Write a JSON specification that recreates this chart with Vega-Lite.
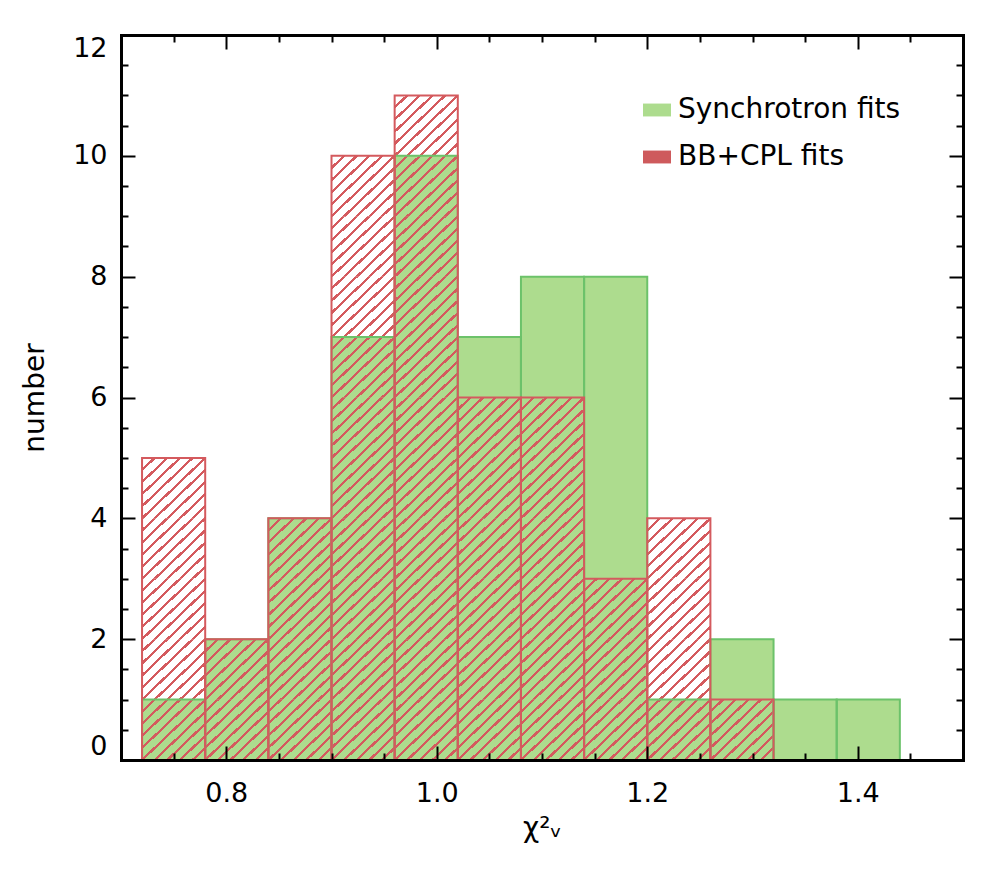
{
  "$schema": "https://vega.github.io/schema/vega-lite/v6.json",
  "width": 842,
  "height": 725,
  "autosize": {"type": "none"},
  "padding": {"left": 121, "top": 35, "right": 40, "bottom": 126},
  "background": "white",
  "config": {
    "font": "DejaVu Sans",
    "view": {"stroke": null},
    "axis": {
      "grid": false,
      "tickColor": "black",
      "tickWidth": 2,
      "domainColor": "black",
      "domainWidth": 3,
      "domainCap": "square",
      "labelColor": "black",
      "labelFontSize": 27,
      "labelOverlap": false,
      "titleColor": "black",
      "titleFontSize": 28,
      "titleFontWeight": "normal"
    }
  },
  "data": {
    "values": [
      {"lo": 0.72, "hi": 0.78, "synchrotron": 1, "bbcpl": 5},
      {"lo": 0.78, "hi": 0.84, "synchrotron": 2, "bbcpl": 2},
      {"lo": 0.84, "hi": 0.90, "synchrotron": 4, "bbcpl": 4},
      {"lo": 0.90, "hi": 0.96, "synchrotron": 7, "bbcpl": 10},
      {"lo": 0.96, "hi": 1.02, "synchrotron": 10, "bbcpl": 11},
      {"lo": 1.02, "hi": 1.08, "synchrotron": 7, "bbcpl": 6},
      {"lo": 1.08, "hi": 1.14, "synchrotron": 8, "bbcpl": 6},
      {"lo": 1.14, "hi": 1.20, "synchrotron": 8, "bbcpl": 3},
      {"lo": 1.20, "hi": 1.26, "synchrotron": 1, "bbcpl": 4},
      {"lo": 1.26, "hi": 1.32, "synchrotron": 2, "bbcpl": 1},
      {"lo": 1.32, "hi": 1.38, "synchrotron": 1, "bbcpl": 0},
      {"lo": 1.38, "hi": 1.44, "synchrotron": 1, "bbcpl": 0}
    ]
  },
  "resolve": {"axis": {"x": "independent", "y": "independent"}},
  "layer": [
    {
      "mark": {"type": "bar", "strokeWidth": 0},
      "encoding": {
        "x": {
          "field": "lo", "type": "quantitative",
          "scale": {"domain": [0.7, 1.5], "nice": false, "zero": false},
          "axis": {
            "orient": "bottom",
            "values": [0.75, 0.8, 0.85, 0.9, 0.95, 1.0, 1.05, 1.1, 1.15, 1.2, 1.25, 1.3, 1.35, 1.4, 1.45],
            "labelExpr": "round(datum.value * 100) % 20 === 0 ? format(datum.value, '.1f') : ''",
            "tickSize": {"condition": {"test": "round(datum.value * 100) % 20 === 0", "value": -14}, "value": -7},
            "labelPadding": 34,
            "title": "χ²ᵥ",
            "titlePadding": 1,
            "zindex": 1
          }
        },
        "x2": {"field": "hi"},
        "y": {
          "field": "synchrotron", "type": "quantitative",
          "scale": {"domain": [0, 12], "nice": false},
          "axis": {
            "orient": "left",
            "values": [0, 0.5, 1, 1.5, 2, 2.5, 3, 3.5, 4, 4.5, 5, 5.5, 6, 6.5, 7, 7.5, 8, 8.5, 9, 9.5, 10, 10.5, 11, 11.5, 12],
            "labelExpr": "datum.value % 2 === 0 ? format(datum.value, 'd') : ''",
            "tickSize": {"condition": {"test": "datum.value % 2 === 0", "value": -14}, "value": -7},
            "labelPadding": 28,
            "labelFlush": true,
            "title": "number",
            "titlePadding": 23,
            "zindex": 1
          }
        },
        "y2": {"datum": 0},
        "color": {
          "datum": "Synchrotron fits", "type": "nominal",
          "scale": {"domain": ["Synchrotron fits", "BB+CPL fits"], "range": ["#addc8e", "#ce5a5c"]},
          "legend": {
            "orient": "none",
            "legendX": 522,
            "legendY": 61,
            "title": null,
            "padding": 0,
            "symbolType": "M-1,-0.46H1V0.46H-1Z",
            "symbolSize": 784,
            "symbolStrokeWidth": 0,
            "symbolOpacity": 1,
            "labelFontSize": 28,
            "labelColor": "black",
            "labelLimit": 400,
            "labelOffset": 7,
            "rowPadding": 19
          }
        }
      }
    },
    {"transform": [{"filter": "datum.bbcpl > 0"}],
     "mark": {"type": "bar", "strokeWidth": 0, "fill": {"gradient": "linear", "x1": 0, "y1": 0, "x2": 1, "y2": 1, "stops": [{"offset": 0, "color": "#d45a5e"}, {"offset": 0.013, "color": "#d45a5e"}, {"offset": 0.013, "color": "#d45a5e00"}, {"offset": 0.087, "color": "#d45a5e00"}, {"offset": 0.087, "color": "#d45a5e"}, {"offset": 0.113, "color": "#d45a5e"}, {"offset": 0.113, "color": "#d45a5e00"}, {"offset": 0.187, "color": "#d45a5e00"}, {"offset": 0.187, "color": "#d45a5e"}, {"offset": 0.213, "color": "#d45a5e"}, {"offset": 0.213, "color": "#d45a5e00"}, {"offset": 0.287, "color": "#d45a5e00"}, {"offset": 0.287, "color": "#d45a5e"}, {"offset": 0.313, "color": "#d45a5e"}, {"offset": 0.313, "color": "#d45a5e00"}, {"offset": 0.387, "color": "#d45a5e00"}, {"offset": 0.387, "color": "#d45a5e"}, {"offset": 0.413, "color": "#d45a5e"}, {"offset": 0.413, "color": "#d45a5e00"}, {"offset": 0.487, "color": "#d45a5e00"}, {"offset": 0.487, "color": "#d45a5e"}, {"offset": 0.513, "color": "#d45a5e"}, {"offset": 0.513, "color": "#d45a5e00"}, {"offset": 0.587, "color": "#d45a5e00"}, {"offset": 0.587, "color": "#d45a5e"}, {"offset": 0.613, "color": "#d45a5e"}, {"offset": 0.613, "color": "#d45a5e00"}, {"offset": 0.687, "color": "#d45a5e00"}, {"offset": 0.687, "color": "#d45a5e"}, {"offset": 0.713, "color": "#d45a5e"}, {"offset": 0.713, "color": "#d45a5e00"}, {"offset": 0.787, "color": "#d45a5e00"}, {"offset": 0.787, "color": "#d45a5e"}, {"offset": 0.813, "color": "#d45a5e"}, {"offset": 0.813, "color": "#d45a5e00"}, {"offset": 0.887, "color": "#d45a5e00"}, {"offset": 0.887, "color": "#d45a5e"}, {"offset": 0.913, "color": "#d45a5e"}, {"offset": 0.913, "color": "#d45a5e00"}, {"offset": 0.987, "color": "#d45a5e00"}, {"offset": 0.987, "color": "#d45a5e"}, {"offset": 1, "color": "#d45a5e"}]}},
     "encoding": {"x": {"field": "lo", "type": "quantitative", "axis": null}, "x2": {"field": "hi"}, "y": {"datum": 1, "type": "quantitative", "axis": null}, "y2": {"datum": 0}}},
    {"transform": [{"filter": "datum.bbcpl > 1"}],
     "mark": {"type": "bar", "strokeWidth": 0, "fill": {"gradient": "linear", "x1": 0, "y1": 0, "x2": 1, "y2": 1, "stops": [{"offset": 0, "color": "#d45a5e"}, {"offset": 0.013, "color": "#d45a5e"}, {"offset": 0.013, "color": "#d45a5e00"}, {"offset": 0.087, "color": "#d45a5e00"}, {"offset": 0.087, "color": "#d45a5e"}, {"offset": 0.113, "color": "#d45a5e"}, {"offset": 0.113, "color": "#d45a5e00"}, {"offset": 0.187, "color": "#d45a5e00"}, {"offset": 0.187, "color": "#d45a5e"}, {"offset": 0.213, "color": "#d45a5e"}, {"offset": 0.213, "color": "#d45a5e00"}, {"offset": 0.287, "color": "#d45a5e00"}, {"offset": 0.287, "color": "#d45a5e"}, {"offset": 0.313, "color": "#d45a5e"}, {"offset": 0.313, "color": "#d45a5e00"}, {"offset": 0.387, "color": "#d45a5e00"}, {"offset": 0.387, "color": "#d45a5e"}, {"offset": 0.413, "color": "#d45a5e"}, {"offset": 0.413, "color": "#d45a5e00"}, {"offset": 0.487, "color": "#d45a5e00"}, {"offset": 0.487, "color": "#d45a5e"}, {"offset": 0.513, "color": "#d45a5e"}, {"offset": 0.513, "color": "#d45a5e00"}, {"offset": 0.587, "color": "#d45a5e00"}, {"offset": 0.587, "color": "#d45a5e"}, {"offset": 0.613, "color": "#d45a5e"}, {"offset": 0.613, "color": "#d45a5e00"}, {"offset": 0.687, "color": "#d45a5e00"}, {"offset": 0.687, "color": "#d45a5e"}, {"offset": 0.713, "color": "#d45a5e"}, {"offset": 0.713, "color": "#d45a5e00"}, {"offset": 0.787, "color": "#d45a5e00"}, {"offset": 0.787, "color": "#d45a5e"}, {"offset": 0.813, "color": "#d45a5e"}, {"offset": 0.813, "color": "#d45a5e00"}, {"offset": 0.887, "color": "#d45a5e00"}, {"offset": 0.887, "color": "#d45a5e"}, {"offset": 0.913, "color": "#d45a5e"}, {"offset": 0.913, "color": "#d45a5e00"}, {"offset": 0.987, "color": "#d45a5e00"}, {"offset": 0.987, "color": "#d45a5e"}, {"offset": 1, "color": "#d45a5e"}]}},
     "encoding": {"x": {"field": "lo", "type": "quantitative", "axis": null}, "x2": {"field": "hi"}, "y": {"datum": 2, "type": "quantitative", "axis": null}, "y2": {"datum": 1}}},
    {"transform": [{"filter": "datum.bbcpl > 2"}],
     "mark": {"type": "bar", "strokeWidth": 0, "fill": {"gradient": "linear", "x1": 0, "y1": 0, "x2": 1, "y2": 1, "stops": [{"offset": 0, "color": "#d45a5e"}, {"offset": 0.013, "color": "#d45a5e"}, {"offset": 0.013, "color": "#d45a5e00"}, {"offset": 0.087, "color": "#d45a5e00"}, {"offset": 0.087, "color": "#d45a5e"}, {"offset": 0.113, "color": "#d45a5e"}, {"offset": 0.113, "color": "#d45a5e00"}, {"offset": 0.187, "color": "#d45a5e00"}, {"offset": 0.187, "color": "#d45a5e"}, {"offset": 0.213, "color": "#d45a5e"}, {"offset": 0.213, "color": "#d45a5e00"}, {"offset": 0.287, "color": "#d45a5e00"}, {"offset": 0.287, "color": "#d45a5e"}, {"offset": 0.313, "color": "#d45a5e"}, {"offset": 0.313, "color": "#d45a5e00"}, {"offset": 0.387, "color": "#d45a5e00"}, {"offset": 0.387, "color": "#d45a5e"}, {"offset": 0.413, "color": "#d45a5e"}, {"offset": 0.413, "color": "#d45a5e00"}, {"offset": 0.487, "color": "#d45a5e00"}, {"offset": 0.487, "color": "#d45a5e"}, {"offset": 0.513, "color": "#d45a5e"}, {"offset": 0.513, "color": "#d45a5e00"}, {"offset": 0.587, "color": "#d45a5e00"}, {"offset": 0.587, "color": "#d45a5e"}, {"offset": 0.613, "color": "#d45a5e"}, {"offset": 0.613, "color": "#d45a5e00"}, {"offset": 0.687, "color": "#d45a5e00"}, {"offset": 0.687, "color": "#d45a5e"}, {"offset": 0.713, "color": "#d45a5e"}, {"offset": 0.713, "color": "#d45a5e00"}, {"offset": 0.787, "color": "#d45a5e00"}, {"offset": 0.787, "color": "#d45a5e"}, {"offset": 0.813, "color": "#d45a5e"}, {"offset": 0.813, "color": "#d45a5e00"}, {"offset": 0.887, "color": "#d45a5e00"}, {"offset": 0.887, "color": "#d45a5e"}, {"offset": 0.913, "color": "#d45a5e"}, {"offset": 0.913, "color": "#d45a5e00"}, {"offset": 0.987, "color": "#d45a5e00"}, {"offset": 0.987, "color": "#d45a5e"}, {"offset": 1, "color": "#d45a5e"}]}},
     "encoding": {"x": {"field": "lo", "type": "quantitative", "axis": null}, "x2": {"field": "hi"}, "y": {"datum": 3, "type": "quantitative", "axis": null}, "y2": {"datum": 2}}},
    {"transform": [{"filter": "datum.bbcpl > 3"}],
     "mark": {"type": "bar", "strokeWidth": 0, "fill": {"gradient": "linear", "x1": 0, "y1": 0, "x2": 1, "y2": 1, "stops": [{"offset": 0, "color": "#d45a5e"}, {"offset": 0.013, "color": "#d45a5e"}, {"offset": 0.013, "color": "#d45a5e00"}, {"offset": 0.087, "color": "#d45a5e00"}, {"offset": 0.087, "color": "#d45a5e"}, {"offset": 0.113, "color": "#d45a5e"}, {"offset": 0.113, "color": "#d45a5e00"}, {"offset": 0.187, "color": "#d45a5e00"}, {"offset": 0.187, "color": "#d45a5e"}, {"offset": 0.213, "color": "#d45a5e"}, {"offset": 0.213, "color": "#d45a5e00"}, {"offset": 0.287, "color": "#d45a5e00"}, {"offset": 0.287, "color": "#d45a5e"}, {"offset": 0.313, "color": "#d45a5e"}, {"offset": 0.313, "color": "#d45a5e00"}, {"offset": 0.387, "color": "#d45a5e00"}, {"offset": 0.387, "color": "#d45a5e"}, {"offset": 0.413, "color": "#d45a5e"}, {"offset": 0.413, "color": "#d45a5e00"}, {"offset": 0.487, "color": "#d45a5e00"}, {"offset": 0.487, "color": "#d45a5e"}, {"offset": 0.513, "color": "#d45a5e"}, {"offset": 0.513, "color": "#d45a5e00"}, {"offset": 0.587, "color": "#d45a5e00"}, {"offset": 0.587, "color": "#d45a5e"}, {"offset": 0.613, "color": "#d45a5e"}, {"offset": 0.613, "color": "#d45a5e00"}, {"offset": 0.687, "color": "#d45a5e00"}, {"offset": 0.687, "color": "#d45a5e"}, {"offset": 0.713, "color": "#d45a5e"}, {"offset": 0.713, "color": "#d45a5e00"}, {"offset": 0.787, "color": "#d45a5e00"}, {"offset": 0.787, "color": "#d45a5e"}, {"offset": 0.813, "color": "#d45a5e"}, {"offset": 0.813, "color": "#d45a5e00"}, {"offset": 0.887, "color": "#d45a5e00"}, {"offset": 0.887, "color": "#d45a5e"}, {"offset": 0.913, "color": "#d45a5e"}, {"offset": 0.913, "color": "#d45a5e00"}, {"offset": 0.987, "color": "#d45a5e00"}, {"offset": 0.987, "color": "#d45a5e"}, {"offset": 1, "color": "#d45a5e"}]}},
     "encoding": {"x": {"field": "lo", "type": "quantitative", "axis": null}, "x2": {"field": "hi"}, "y": {"datum": 4, "type": "quantitative", "axis": null}, "y2": {"datum": 3}}},
    {"transform": [{"filter": "datum.bbcpl > 4"}],
     "mark": {"type": "bar", "strokeWidth": 0, "fill": {"gradient": "linear", "x1": 0, "y1": 0, "x2": 1, "y2": 1, "stops": [{"offset": 0, "color": "#d45a5e"}, {"offset": 0.013, "color": "#d45a5e"}, {"offset": 0.013, "color": "#d45a5e00"}, {"offset": 0.087, "color": "#d45a5e00"}, {"offset": 0.087, "color": "#d45a5e"}, {"offset": 0.113, "color": "#d45a5e"}, {"offset": 0.113, "color": "#d45a5e00"}, {"offset": 0.187, "color": "#d45a5e00"}, {"offset": 0.187, "color": "#d45a5e"}, {"offset": 0.213, "color": "#d45a5e"}, {"offset": 0.213, "color": "#d45a5e00"}, {"offset": 0.287, "color": "#d45a5e00"}, {"offset": 0.287, "color": "#d45a5e"}, {"offset": 0.313, "color": "#d45a5e"}, {"offset": 0.313, "color": "#d45a5e00"}, {"offset": 0.387, "color": "#d45a5e00"}, {"offset": 0.387, "color": "#d45a5e"}, {"offset": 0.413, "color": "#d45a5e"}, {"offset": 0.413, "color": "#d45a5e00"}, {"offset": 0.487, "color": "#d45a5e00"}, {"offset": 0.487, "color": "#d45a5e"}, {"offset": 0.513, "color": "#d45a5e"}, {"offset": 0.513, "color": "#d45a5e00"}, {"offset": 0.587, "color": "#d45a5e00"}, {"offset": 0.587, "color": "#d45a5e"}, {"offset": 0.613, "color": "#d45a5e"}, {"offset": 0.613, "color": "#d45a5e00"}, {"offset": 0.687, "color": "#d45a5e00"}, {"offset": 0.687, "color": "#d45a5e"}, {"offset": 0.713, "color": "#d45a5e"}, {"offset": 0.713, "color": "#d45a5e00"}, {"offset": 0.787, "color": "#d45a5e00"}, {"offset": 0.787, "color": "#d45a5e"}, {"offset": 0.813, "color": "#d45a5e"}, {"offset": 0.813, "color": "#d45a5e00"}, {"offset": 0.887, "color": "#d45a5e00"}, {"offset": 0.887, "color": "#d45a5e"}, {"offset": 0.913, "color": "#d45a5e"}, {"offset": 0.913, "color": "#d45a5e00"}, {"offset": 0.987, "color": "#d45a5e00"}, {"offset": 0.987, "color": "#d45a5e"}, {"offset": 1, "color": "#d45a5e"}]}},
     "encoding": {"x": {"field": "lo", "type": "quantitative", "axis": null}, "x2": {"field": "hi"}, "y": {"datum": 5, "type": "quantitative", "axis": null}, "y2": {"datum": 4}}},
    {"transform": [{"filter": "datum.bbcpl > 5"}],
     "mark": {"type": "bar", "strokeWidth": 0, "fill": {"gradient": "linear", "x1": 0, "y1": 0, "x2": 1, "y2": 1, "stops": [{"offset": 0, "color": "#d45a5e"}, {"offset": 0.013, "color": "#d45a5e"}, {"offset": 0.013, "color": "#d45a5e00"}, {"offset": 0.087, "color": "#d45a5e00"}, {"offset": 0.087, "color": "#d45a5e"}, {"offset": 0.113, "color": "#d45a5e"}, {"offset": 0.113, "color": "#d45a5e00"}, {"offset": 0.187, "color": "#d45a5e00"}, {"offset": 0.187, "color": "#d45a5e"}, {"offset": 0.213, "color": "#d45a5e"}, {"offset": 0.213, "color": "#d45a5e00"}, {"offset": 0.287, "color": "#d45a5e00"}, {"offset": 0.287, "color": "#d45a5e"}, {"offset": 0.313, "color": "#d45a5e"}, {"offset": 0.313, "color": "#d45a5e00"}, {"offset": 0.387, "color": "#d45a5e00"}, {"offset": 0.387, "color": "#d45a5e"}, {"offset": 0.413, "color": "#d45a5e"}, {"offset": 0.413, "color": "#d45a5e00"}, {"offset": 0.487, "color": "#d45a5e00"}, {"offset": 0.487, "color": "#d45a5e"}, {"offset": 0.513, "color": "#d45a5e"}, {"offset": 0.513, "color": "#d45a5e00"}, {"offset": 0.587, "color": "#d45a5e00"}, {"offset": 0.587, "color": "#d45a5e"}, {"offset": 0.613, "color": "#d45a5e"}, {"offset": 0.613, "color": "#d45a5e00"}, {"offset": 0.687, "color": "#d45a5e00"}, {"offset": 0.687, "color": "#d45a5e"}, {"offset": 0.713, "color": "#d45a5e"}, {"offset": 0.713, "color": "#d45a5e00"}, {"offset": 0.787, "color": "#d45a5e00"}, {"offset": 0.787, "color": "#d45a5e"}, {"offset": 0.813, "color": "#d45a5e"}, {"offset": 0.813, "color": "#d45a5e00"}, {"offset": 0.887, "color": "#d45a5e00"}, {"offset": 0.887, "color": "#d45a5e"}, {"offset": 0.913, "color": "#d45a5e"}, {"offset": 0.913, "color": "#d45a5e00"}, {"offset": 0.987, "color": "#d45a5e00"}, {"offset": 0.987, "color": "#d45a5e"}, {"offset": 1, "color": "#d45a5e"}]}},
     "encoding": {"x": {"field": "lo", "type": "quantitative", "axis": null}, "x2": {"field": "hi"}, "y": {"datum": 6, "type": "quantitative", "axis": null}, "y2": {"datum": 5}}},
    {"transform": [{"filter": "datum.bbcpl > 6"}],
     "mark": {"type": "bar", "strokeWidth": 0, "fill": {"gradient": "linear", "x1": 0, "y1": 0, "x2": 1, "y2": 1, "stops": [{"offset": 0, "color": "#d45a5e"}, {"offset": 0.013, "color": "#d45a5e"}, {"offset": 0.013, "color": "#d45a5e00"}, {"offset": 0.087, "color": "#d45a5e00"}, {"offset": 0.087, "color": "#d45a5e"}, {"offset": 0.113, "color": "#d45a5e"}, {"offset": 0.113, "color": "#d45a5e00"}, {"offset": 0.187, "color": "#d45a5e00"}, {"offset": 0.187, "color": "#d45a5e"}, {"offset": 0.213, "color": "#d45a5e"}, {"offset": 0.213, "color": "#d45a5e00"}, {"offset": 0.287, "color": "#d45a5e00"}, {"offset": 0.287, "color": "#d45a5e"}, {"offset": 0.313, "color": "#d45a5e"}, {"offset": 0.313, "color": "#d45a5e00"}, {"offset": 0.387, "color": "#d45a5e00"}, {"offset": 0.387, "color": "#d45a5e"}, {"offset": 0.413, "color": "#d45a5e"}, {"offset": 0.413, "color": "#d45a5e00"}, {"offset": 0.487, "color": "#d45a5e00"}, {"offset": 0.487, "color": "#d45a5e"}, {"offset": 0.513, "color": "#d45a5e"}, {"offset": 0.513, "color": "#d45a5e00"}, {"offset": 0.587, "color": "#d45a5e00"}, {"offset": 0.587, "color": "#d45a5e"}, {"offset": 0.613, "color": "#d45a5e"}, {"offset": 0.613, "color": "#d45a5e00"}, {"offset": 0.687, "color": "#d45a5e00"}, {"offset": 0.687, "color": "#d45a5e"}, {"offset": 0.713, "color": "#d45a5e"}, {"offset": 0.713, "color": "#d45a5e00"}, {"offset": 0.787, "color": "#d45a5e00"}, {"offset": 0.787, "color": "#d45a5e"}, {"offset": 0.813, "color": "#d45a5e"}, {"offset": 0.813, "color": "#d45a5e00"}, {"offset": 0.887, "color": "#d45a5e00"}, {"offset": 0.887, "color": "#d45a5e"}, {"offset": 0.913, "color": "#d45a5e"}, {"offset": 0.913, "color": "#d45a5e00"}, {"offset": 0.987, "color": "#d45a5e00"}, {"offset": 0.987, "color": "#d45a5e"}, {"offset": 1, "color": "#d45a5e"}]}},
     "encoding": {"x": {"field": "lo", "type": "quantitative", "axis": null}, "x2": {"field": "hi"}, "y": {"datum": 7, "type": "quantitative", "axis": null}, "y2": {"datum": 6}}},
    {"transform": [{"filter": "datum.bbcpl > 7"}],
     "mark": {"type": "bar", "strokeWidth": 0, "fill": {"gradient": "linear", "x1": 0, "y1": 0, "x2": 1, "y2": 1, "stops": [{"offset": 0, "color": "#d45a5e"}, {"offset": 0.013, "color": "#d45a5e"}, {"offset": 0.013, "color": "#d45a5e00"}, {"offset": 0.087, "color": "#d45a5e00"}, {"offset": 0.087, "color": "#d45a5e"}, {"offset": 0.113, "color": "#d45a5e"}, {"offset": 0.113, "color": "#d45a5e00"}, {"offset": 0.187, "color": "#d45a5e00"}, {"offset": 0.187, "color": "#d45a5e"}, {"offset": 0.213, "color": "#d45a5e"}, {"offset": 0.213, "color": "#d45a5e00"}, {"offset": 0.287, "color": "#d45a5e00"}, {"offset": 0.287, "color": "#d45a5e"}, {"offset": 0.313, "color": "#d45a5e"}, {"offset": 0.313, "color": "#d45a5e00"}, {"offset": 0.387, "color": "#d45a5e00"}, {"offset": 0.387, "color": "#d45a5e"}, {"offset": 0.413, "color": "#d45a5e"}, {"offset": 0.413, "color": "#d45a5e00"}, {"offset": 0.487, "color": "#d45a5e00"}, {"offset": 0.487, "color": "#d45a5e"}, {"offset": 0.513, "color": "#d45a5e"}, {"offset": 0.513, "color": "#d45a5e00"}, {"offset": 0.587, "color": "#d45a5e00"}, {"offset": 0.587, "color": "#d45a5e"}, {"offset": 0.613, "color": "#d45a5e"}, {"offset": 0.613, "color": "#d45a5e00"}, {"offset": 0.687, "color": "#d45a5e00"}, {"offset": 0.687, "color": "#d45a5e"}, {"offset": 0.713, "color": "#d45a5e"}, {"offset": 0.713, "color": "#d45a5e00"}, {"offset": 0.787, "color": "#d45a5e00"}, {"offset": 0.787, "color": "#d45a5e"}, {"offset": 0.813, "color": "#d45a5e"}, {"offset": 0.813, "color": "#d45a5e00"}, {"offset": 0.887, "color": "#d45a5e00"}, {"offset": 0.887, "color": "#d45a5e"}, {"offset": 0.913, "color": "#d45a5e"}, {"offset": 0.913, "color": "#d45a5e00"}, {"offset": 0.987, "color": "#d45a5e00"}, {"offset": 0.987, "color": "#d45a5e"}, {"offset": 1, "color": "#d45a5e"}]}},
     "encoding": {"x": {"field": "lo", "type": "quantitative", "axis": null}, "x2": {"field": "hi"}, "y": {"datum": 8, "type": "quantitative", "axis": null}, "y2": {"datum": 7}}},
    {"transform": [{"filter": "datum.bbcpl > 8"}],
     "mark": {"type": "bar", "strokeWidth": 0, "fill": {"gradient": "linear", "x1": 0, "y1": 0, "x2": 1, "y2": 1, "stops": [{"offset": 0, "color": "#d45a5e"}, {"offset": 0.013, "color": "#d45a5e"}, {"offset": 0.013, "color": "#d45a5e00"}, {"offset": 0.087, "color": "#d45a5e00"}, {"offset": 0.087, "color": "#d45a5e"}, {"offset": 0.113, "color": "#d45a5e"}, {"offset": 0.113, "color": "#d45a5e00"}, {"offset": 0.187, "color": "#d45a5e00"}, {"offset": 0.187, "color": "#d45a5e"}, {"offset": 0.213, "color": "#d45a5e"}, {"offset": 0.213, "color": "#d45a5e00"}, {"offset": 0.287, "color": "#d45a5e00"}, {"offset": 0.287, "color": "#d45a5e"}, {"offset": 0.313, "color": "#d45a5e"}, {"offset": 0.313, "color": "#d45a5e00"}, {"offset": 0.387, "color": "#d45a5e00"}, {"offset": 0.387, "color": "#d45a5e"}, {"offset": 0.413, "color": "#d45a5e"}, {"offset": 0.413, "color": "#d45a5e00"}, {"offset": 0.487, "color": "#d45a5e00"}, {"offset": 0.487, "color": "#d45a5e"}, {"offset": 0.513, "color": "#d45a5e"}, {"offset": 0.513, "color": "#d45a5e00"}, {"offset": 0.587, "color": "#d45a5e00"}, {"offset": 0.587, "color": "#d45a5e"}, {"offset": 0.613, "color": "#d45a5e"}, {"offset": 0.613, "color": "#d45a5e00"}, {"offset": 0.687, "color": "#d45a5e00"}, {"offset": 0.687, "color": "#d45a5e"}, {"offset": 0.713, "color": "#d45a5e"}, {"offset": 0.713, "color": "#d45a5e00"}, {"offset": 0.787, "color": "#d45a5e00"}, {"offset": 0.787, "color": "#d45a5e"}, {"offset": 0.813, "color": "#d45a5e"}, {"offset": 0.813, "color": "#d45a5e00"}, {"offset": 0.887, "color": "#d45a5e00"}, {"offset": 0.887, "color": "#d45a5e"}, {"offset": 0.913, "color": "#d45a5e"}, {"offset": 0.913, "color": "#d45a5e00"}, {"offset": 0.987, "color": "#d45a5e00"}, {"offset": 0.987, "color": "#d45a5e"}, {"offset": 1, "color": "#d45a5e"}]}},
     "encoding": {"x": {"field": "lo", "type": "quantitative", "axis": null}, "x2": {"field": "hi"}, "y": {"datum": 9, "type": "quantitative", "axis": null}, "y2": {"datum": 8}}},
    {"transform": [{"filter": "datum.bbcpl > 9"}],
     "mark": {"type": "bar", "strokeWidth": 0, "fill": {"gradient": "linear", "x1": 0, "y1": 0, "x2": 1, "y2": 1, "stops": [{"offset": 0, "color": "#d45a5e"}, {"offset": 0.013, "color": "#d45a5e"}, {"offset": 0.013, "color": "#d45a5e00"}, {"offset": 0.087, "color": "#d45a5e00"}, {"offset": 0.087, "color": "#d45a5e"}, {"offset": 0.113, "color": "#d45a5e"}, {"offset": 0.113, "color": "#d45a5e00"}, {"offset": 0.187, "color": "#d45a5e00"}, {"offset": 0.187, "color": "#d45a5e"}, {"offset": 0.213, "color": "#d45a5e"}, {"offset": 0.213, "color": "#d45a5e00"}, {"offset": 0.287, "color": "#d45a5e00"}, {"offset": 0.287, "color": "#d45a5e"}, {"offset": 0.313, "color": "#d45a5e"}, {"offset": 0.313, "color": "#d45a5e00"}, {"offset": 0.387, "color": "#d45a5e00"}, {"offset": 0.387, "color": "#d45a5e"}, {"offset": 0.413, "color": "#d45a5e"}, {"offset": 0.413, "color": "#d45a5e00"}, {"offset": 0.487, "color": "#d45a5e00"}, {"offset": 0.487, "color": "#d45a5e"}, {"offset": 0.513, "color": "#d45a5e"}, {"offset": 0.513, "color": "#d45a5e00"}, {"offset": 0.587, "color": "#d45a5e00"}, {"offset": 0.587, "color": "#d45a5e"}, {"offset": 0.613, "color": "#d45a5e"}, {"offset": 0.613, "color": "#d45a5e00"}, {"offset": 0.687, "color": "#d45a5e00"}, {"offset": 0.687, "color": "#d45a5e"}, {"offset": 0.713, "color": "#d45a5e"}, {"offset": 0.713, "color": "#d45a5e00"}, {"offset": 0.787, "color": "#d45a5e00"}, {"offset": 0.787, "color": "#d45a5e"}, {"offset": 0.813, "color": "#d45a5e"}, {"offset": 0.813, "color": "#d45a5e00"}, {"offset": 0.887, "color": "#d45a5e00"}, {"offset": 0.887, "color": "#d45a5e"}, {"offset": 0.913, "color": "#d45a5e"}, {"offset": 0.913, "color": "#d45a5e00"}, {"offset": 0.987, "color": "#d45a5e00"}, {"offset": 0.987, "color": "#d45a5e"}, {"offset": 1, "color": "#d45a5e"}]}},
     "encoding": {"x": {"field": "lo", "type": "quantitative", "axis": null}, "x2": {"field": "hi"}, "y": {"datum": 10, "type": "quantitative", "axis": null}, "y2": {"datum": 9}}},
    {"transform": [{"filter": "datum.bbcpl > 10"}],
     "mark": {"type": "bar", "strokeWidth": 0, "fill": {"gradient": "linear", "x1": 0, "y1": 0, "x2": 1, "y2": 1, "stops": [{"offset": 0, "color": "#d45a5e"}, {"offset": 0.013, "color": "#d45a5e"}, {"offset": 0.013, "color": "#d45a5e00"}, {"offset": 0.087, "color": "#d45a5e00"}, {"offset": 0.087, "color": "#d45a5e"}, {"offset": 0.113, "color": "#d45a5e"}, {"offset": 0.113, "color": "#d45a5e00"}, {"offset": 0.187, "color": "#d45a5e00"}, {"offset": 0.187, "color": "#d45a5e"}, {"offset": 0.213, "color": "#d45a5e"}, {"offset": 0.213, "color": "#d45a5e00"}, {"offset": 0.287, "color": "#d45a5e00"}, {"offset": 0.287, "color": "#d45a5e"}, {"offset": 0.313, "color": "#d45a5e"}, {"offset": 0.313, "color": "#d45a5e00"}, {"offset": 0.387, "color": "#d45a5e00"}, {"offset": 0.387, "color": "#d45a5e"}, {"offset": 0.413, "color": "#d45a5e"}, {"offset": 0.413, "color": "#d45a5e00"}, {"offset": 0.487, "color": "#d45a5e00"}, {"offset": 0.487, "color": "#d45a5e"}, {"offset": 0.513, "color": "#d45a5e"}, {"offset": 0.513, "color": "#d45a5e00"}, {"offset": 0.587, "color": "#d45a5e00"}, {"offset": 0.587, "color": "#d45a5e"}, {"offset": 0.613, "color": "#d45a5e"}, {"offset": 0.613, "color": "#d45a5e00"}, {"offset": 0.687, "color": "#d45a5e00"}, {"offset": 0.687, "color": "#d45a5e"}, {"offset": 0.713, "color": "#d45a5e"}, {"offset": 0.713, "color": "#d45a5e00"}, {"offset": 0.787, "color": "#d45a5e00"}, {"offset": 0.787, "color": "#d45a5e"}, {"offset": 0.813, "color": "#d45a5e"}, {"offset": 0.813, "color": "#d45a5e00"}, {"offset": 0.887, "color": "#d45a5e00"}, {"offset": 0.887, "color": "#d45a5e"}, {"offset": 0.913, "color": "#d45a5e"}, {"offset": 0.913, "color": "#d45a5e00"}, {"offset": 0.987, "color": "#d45a5e00"}, {"offset": 0.987, "color": "#d45a5e"}, {"offset": 1, "color": "#d45a5e"}]}},
     "encoding": {"x": {"field": "lo", "type": "quantitative", "axis": null}, "x2": {"field": "hi"}, "y": {"datum": 11, "type": "quantitative", "axis": null}, "y2": {"datum": 10}}},
    {
      "mark": {"type": "bar", "filled": false, "stroke": "#6cc26a", "strokeWidth": 2},
      "encoding": {
        "x": {"field": "lo", "type": "quantitative", "axis": null},
        "x2": {"field": "hi"},
        "y": {"field": "synchrotron", "type": "quantitative", "axis": null},
        "y2": {"datum": 0}
      }
    },
    {
      "transform": [{"filter": "datum.bbcpl > 0"}],
      "mark": {"type": "bar", "filled": false, "stroke": "#d45a5e", "strokeWidth": 2},
      "encoding": {
        "x": {
          "field": "lo", "type": "quantitative",
          "axis": {
            "orient": "top",
            "values": [0.75, 0.8, 0.85, 0.9, 0.95, 1.0, 1.05, 1.1, 1.15, 1.2, 1.25, 1.3, 1.35, 1.4, 1.45],
            "labels": false,
            "title": null,
            "tickSize": {"condition": {"test": "round(datum.value * 100) % 20 === 0", "value": -14}, "value": -7},
            "zindex": 1
          }
        },
        "x2": {"field": "hi"},
        "y": {
          "field": "bbcpl", "type": "quantitative",
          "axis": {
            "orient": "right",
            "values": [0, 0.5, 1, 1.5, 2, 2.5, 3, 3.5, 4, 4.5, 5, 5.5, 6, 6.5, 7, 7.5, 8, 8.5, 9, 9.5, 10, 10.5, 11, 11.5, 12],
            "labels": false,
            "title": null,
            "tickSize": {"condition": {"test": "datum.value % 2 === 0", "value": -14}, "value": -7},
            "zindex": 1
          }
        },
        "y2": {"datum": 0}
      }
    }
  ]
}
